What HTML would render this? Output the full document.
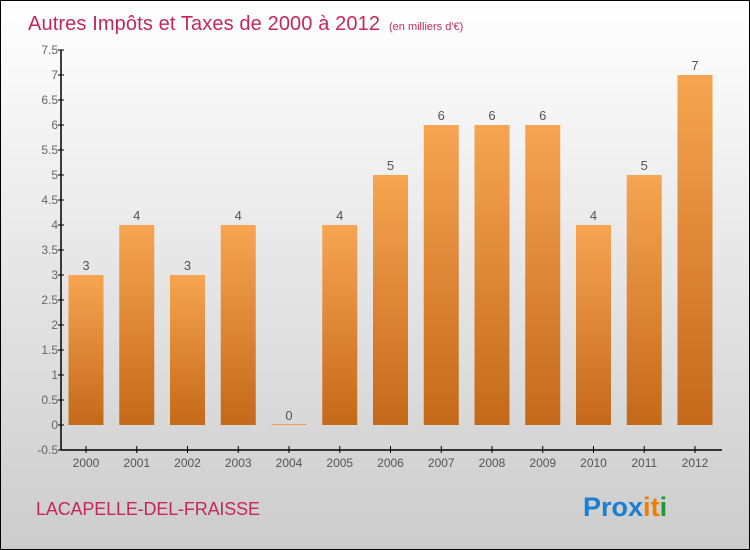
<!DOCTYPE html>
<html><head><meta charset="utf-8"><style>
html,body{margin:0;padding:0}
body{width:750px;height:550px;overflow:hidden;font-family:"Liberation Sans",sans-serif}
#wrap{position:relative;width:748px;height:548px;border:1px solid #000;background:linear-gradient(#fff,#ccc)}
</style></head><body>
<div id="wrap">
<svg id="chart" width="748" height="548" style="position:absolute;left:0;top:0">
<defs><linearGradient id="bg" x1="0" y1="0" x2="0" y2="1"><stop offset="0" stop-color="#f7a552"/><stop offset="1" stop-color="#c4691a"/></linearGradient></defs>
<text x="27" y="29" font-size="20" textLength="352" fill="#c4285a">Autres Impôts et Taxes de 2000 à 2012</text>
<text x="388" y="29" font-size="11" fill="#c4285a">(en milliers d'€)</text>
<text x="35" y="514" font-size="18" textLength="224" fill="#c4285a">LACAPELLE-DEL-FRAISSE</text>
<text x="582" y="515" font-size="27" font-weight="bold"><tspan fill="#1a7fd4">Pro</tspan><tspan fill="#1a7fd4">x</tspan><tspan fill="#f07c00">i</tspan><tspan fill="#f07c00">t</tspan><tspan fill="#1a9a3a">i</tspan></text>
</svg>
</div>
<script>
const categories=["2000","2001","2002","2003","2004","2005","2006","2007","2008","2009","2010","2011","2012"];
const values=[3,4,3,4,0,4,5,6,6,6,4,5,7];
const yTicks=[-0.5,0,0.5,1,1.5,2,2.5,3,3.5,4,4.5,5,5.5,6,6.5,7,7.5];
const svg=document.getElementById('chart');
const NS='http://www.w3.org/2000/svg';
const y=v=>424-(v*50);
const x=i=>85+i*50.75;
function mk(t,a){const e=document.createElementNS(NS,t);for(const k in a)e.setAttribute(k,a[k]);svg.appendChild(e);return e;}
let ax=mk('line',{x1:60,y1:y(7.5),x2:60,y2:y(-0.5),stroke:'#000','stroke-width':1.5});


let bx=mk('line',{x1:60,y1:y(-0.5),x2:721,y2:y(-0.5),stroke:'#000','stroke-width':1.5});


yTicks.forEach(v=>{
 const t=mk('line',{x1:57,x2:63,y1:y(v),y2:y(v),stroke:'#000'});
 
 
 const l=mk('text',{x:57,y:y(v)+4,'font-size':12,'text-anchor':'end',fill:'#666'});
 l.textContent=String(v);
 
 
});
categories.forEach((c,i)=>{
 const cx=x(i);
 const t=mk('line',{x1:cx,x2:cx,y1:y(-0.5)-4,y2:y(-0.5)+3,stroke:'#000'});
 
 
 const l=mk('text',{x:cx,y:466,'font-size':12,'text-anchor':'middle',fill:'#555'});
 l.textContent=c;
 
 
 const v=values[i];
 const h=Math.max(y(0)-y(v),1);
 const b=mk('rect',{x:cx-17.5,y:y(0)-h,width:35,height:h,fill:v>0?'url(#bg)':'#f0a050'});
 
 
 const vl=mk('text',{x:cx,y:y(v)-5,'font-size':13,'text-anchor':'middle',fill:'#555'});
 vl.textContent=String(v);
 
 
});
</script>
</body></html>
